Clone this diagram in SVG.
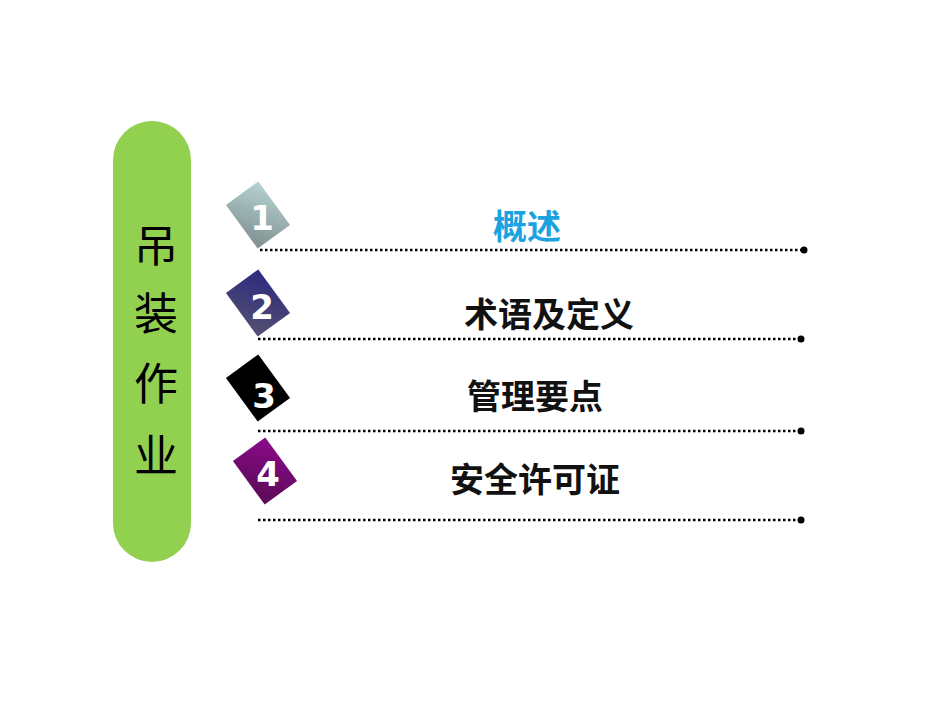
<svg xmlns="http://www.w3.org/2000/svg" width="950" height="713" viewBox="0 0 950 713">
<defs>
<linearGradient id="g1" x1="0" y1="1" x2="1" y2="0"><stop offset="0" stop-color="#7f8f8f"/><stop offset="1" stop-color="#b6d2d2"/></linearGradient>
<linearGradient id="g2" x1="0" y1="1" x2="1" y2="0"><stop offset="0" stop-color="#555070"/><stop offset="1" stop-color="#2c2a80"/></linearGradient>
<linearGradient id="g4" x1="0" y1="1" x2="1" y2="0"><stop offset="0" stop-color="#5a0a55"/><stop offset="1" stop-color="#8a0a8a"/></linearGradient>
<marker id="dot" markerWidth="8" markerHeight="8" refX="4" refY="4" markerUnits="userSpaceOnUse"><circle cx="4" cy="4" r="3.5" fill="#000"/></marker>
</defs>
<style>
.ln{stroke:#000;stroke-width:2.5;stroke-dasharray:2.5 2.5;fill:none;marker-end:url(#dot)}
.num{font-family:"DejaVu Sans",sans-serif;font-weight:bold;font-size:34px;fill:#fff;text-anchor:middle}
.t{font-family:"Noto Sans CJK SC",sans-serif;font-weight:bold;font-size:34px;fill:#111;text-anchor:middle}
.v{font-family:"Noto Sans CJK SC",sans-serif;font-size:44px;fill:#000;text-anchor:middle}
</style>
<rect width="950" height="713" fill="#fff"/>
<g id="side"><rect x="113" y="121" width="78" height="441" rx="39" fill="#92d050"/>
<text class="v" x="156" y="262">吊</text><text class="v" x="156" y="330">装</text><text class="v" x="156" y="400">作</text><text class="v" x="156" y="472">业</text></g>
<g id="connectors">
<path class="ln" d="M260 250H804"/><path class="ln" d="M258 339H801"/><path class="ln" d="M258 431H801"/><path class="ln" d="M258 520H801"/>
</g>
<g id="n1"><rect x="-20" y="-27" width="40" height="54" fill="url(#g1)" transform="translate(258,215) rotate(-36)"/><text class="num" x="262" y="230">1</text><text class="t" x="527" y="239" fill="#00a0e0" style="fill:#1aa3e0">概述</text></g>
<g id="n2"><rect x="-20" y="-27" width="40" height="54" fill="url(#g2)" transform="translate(258,303) rotate(-36)"/><text class="num" x="262" y="319">2</text><text class="t" x="549" y="327">术语及定义</text></g>
<g id="n3"><rect x="-20" y="-27" width="40" height="54" fill="#000" transform="translate(258,388) rotate(-36)"/><text class="num" x="264" y="408">3</text><text class="t" x="535" y="409">管理要点</text></g>
<g id="n4"><rect x="-20" y="-27" width="40" height="54" fill="url(#g4)" transform="translate(265,471) rotate(-36)"/><text class="num" x="268" y="486">4</text><text class="t" x="535" y="492">安全许可证</text></g>
</svg>
